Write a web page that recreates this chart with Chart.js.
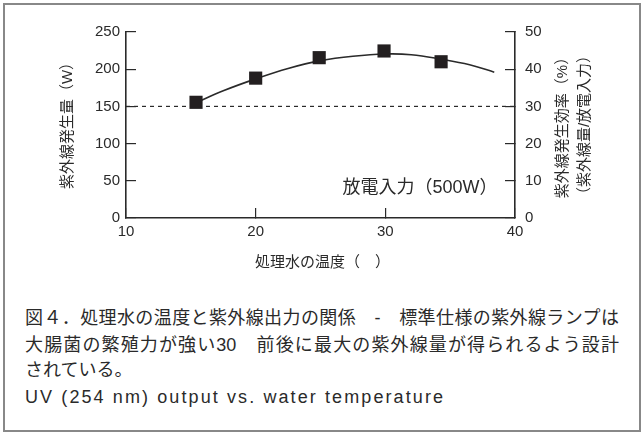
<!DOCTYPE html>
<html>
<head>
<meta charset="utf-8">
<script src="https://cdn.jsdelivr.net/npm/chart.js@4"></script>
<style>
  html, body { margin: 0; padding: 0; background: #fff; }
  body { width: 643px; height: 432px; position: relative; overflow: hidden; }
  #frame { position: absolute; left: 3px; top: 3px; width: 638px; height: 429px; box-sizing: border-box; border: 2px solid #888; }
  #wrap { position: absolute; left: 0; top: 0; width: 643px; height: 290px; }
  .cap { position: absolute; left: 25px; white-space: nowrap; color: #2a2a2a;
         font-family: 'Liberation Sans', 'Noto Sans CJK JP', sans-serif; font-size: 18px; line-height: 26px; }
  .just { width: 594px; text-align: justify; text-align-last: justify; text-justify: inter-character; }
  .en { letter-spacing: 2.1px; }
</style>
</head>
<body>
<div id="frame"></div>
<div id="wrap"><canvas id="c" width="643" height="290"></canvas></div>
<div class="cap just" style="top:305px">図４．処理水の温度と紫外線出力の関係　-　標準仕様の紫外線ランプは</div>
<div class="cap just" style="top:332px">大腸菌の繁殖力が強い30　前後に最大の紫外線量が得られるよう設計</div>
<div class="cap" style="top:357px">されている。</div>
<div class="cap en" style="top:384px">UV (254 nm) output vs. water temperature</div>
<script>
// ---- data ----
const measuredTemps = [15.4, 20, 24.9, 29.9, 34.3];
const measuredOutput = [155.5, 188, 215.5, 224.5, 210];
const fitTemps = [15.4, 17.5, 20, 22.5, 25, 27.5, 30, 32, 34.3, 36.5, 38.4];
const fitOutput = [155, 171, 187, 201, 211.5, 217.5, 220.5, 219.5, 213.5, 206, 196];
const refTemps = [10, 40];
const refOutput = [150, 150];
const xTicks = [10, 20, 30, 40];
const leftTicks = [0, 50, 100, 150, 200, 250];
const rightTicks = [0, 10, 20, 30, 40, 50];
const leftTitle = '紫外線発生量（W）';
const rightTitle1 = '紫外線発生効率（%）';
const rightTitle2 = '（紫外線量/放電入力）';
const xTitle = '処理水の温度（　）';
const note = '放電入力（500W）';

const FONT = "'Liberation Sans', 'Noto Sans CJK JP', sans-serif";
const INK = '#2a2a2a';

const toXY = (xs, ys) => xs.map((x, i) => ({x: x, y: ys[i]}));

const titlePlugin = {
  id: 'titles',
  afterDraw(chart) {
    const ctx = chart.ctx;
    const a = chart.chartArea;
    ctx.save();
    ctx.fillStyle = INK;
    ctx.textAlign = 'center';
    ctx.textBaseline = 'middle';
    ctx.font = '15px ' + FONT;
    const rot = (t, x, y) => { ctx.save(); ctx.translate(x, y); ctx.rotate(-Math.PI / 2); ctx.fillText(t, 0, 0); ctx.restore(); };
    const cy = (a.top + a.bottom) / 2;
    rot(leftTitle, a.left - 58, cy - 3);
    rot(rightTitle1, a.right + 48, cy - 1);
    rot(rightTitle2, a.right + 70, cy);
    ctx.fillText(xTitle, (a.left + a.right) / 2 + 2, a.bottom + 45);
    ctx.font = '18px ' + FONT;
    ctx.fillText(note, a.right - 95, a.bottom - 30);
    ctx.restore();
  }
};

const axisCommon = {
  border: { display: true, color: INK, width: 1.6 },
  grid: { drawOnChartArea: false, drawTicks: true, tickLength: -10, color: INK, lineWidth: 1.2 },
};

new Chart(document.getElementById('c'), {
  type: 'scatter',
  data: {
    datasets: [
      { label: 'ref', data: toXY(refTemps, refOutput), showLine: true, borderColor: INK, borderWidth: 1.2,
        borderDash: [4, 4], pointRadius: 0, yAxisID: 'y', order: 3 },
      { label: 'fit', data: toXY(fitTemps, fitOutput), showLine: true, borderColor: INK, borderWidth: 1.6,
        tension: 0.4, pointRadius: 0, yAxisID: 'y', order: 2 },
      { label: 'measured', data: toXY(measuredTemps, measuredOutput), showLine: false, pointStyle: 'rect',
        pointRadius: 9.3, backgroundColor: '#231f20', borderColor: '#231f20', borderWidth: 0, yAxisID: 'y', order: 1 }
    ]
  },
  options: {
    responsive: false,
    animation: false,
    devicePixelRatio: 1,
    layout: { padding: { top: 32, left: 0, right: 0, bottom: 0 } },
    plugins: { legend: { display: false }, tooltip: { enabled: false }, title: { display: false } },
    scales: {
      x: Object.assign({}, axisCommon, {
        type: 'linear', position: 'bottom', min: 10, max: 40,
        afterBuildTicks: s => { s.ticks = xTicks.map(v => ({value: v})); },
        ticks: { padding: 15, color: INK, font: { family: FONT, size: 15 } },
        afterFit: s => { s.height = 72; }
      }),
      y: Object.assign({}, axisCommon, {
        type: 'linear', position: 'left', min: 0, max: 250,
        afterBuildTicks: s => { s.ticks = leftTicks.map(v => ({value: v})); },
        ticks: { padding: 16, color: INK, font: { family: FONT, size: 15 } },
        afterFit: s => { s.width = 126; }
      }),
      y2: Object.assign({}, axisCommon, {
        type: 'linear', position: 'right', min: 0, max: 50, display: true,
        afterBuildTicks: s => { s.ticks = rightTicks.map(v => ({value: v})); },
        ticks: { padding: 20, color: INK, font: { family: FONT, size: 15 } },
        afterFit: s => { s.width = 128; }
      })
    }
  },
  plugins: [titlePlugin]
});
</script>
</body>
</html>
